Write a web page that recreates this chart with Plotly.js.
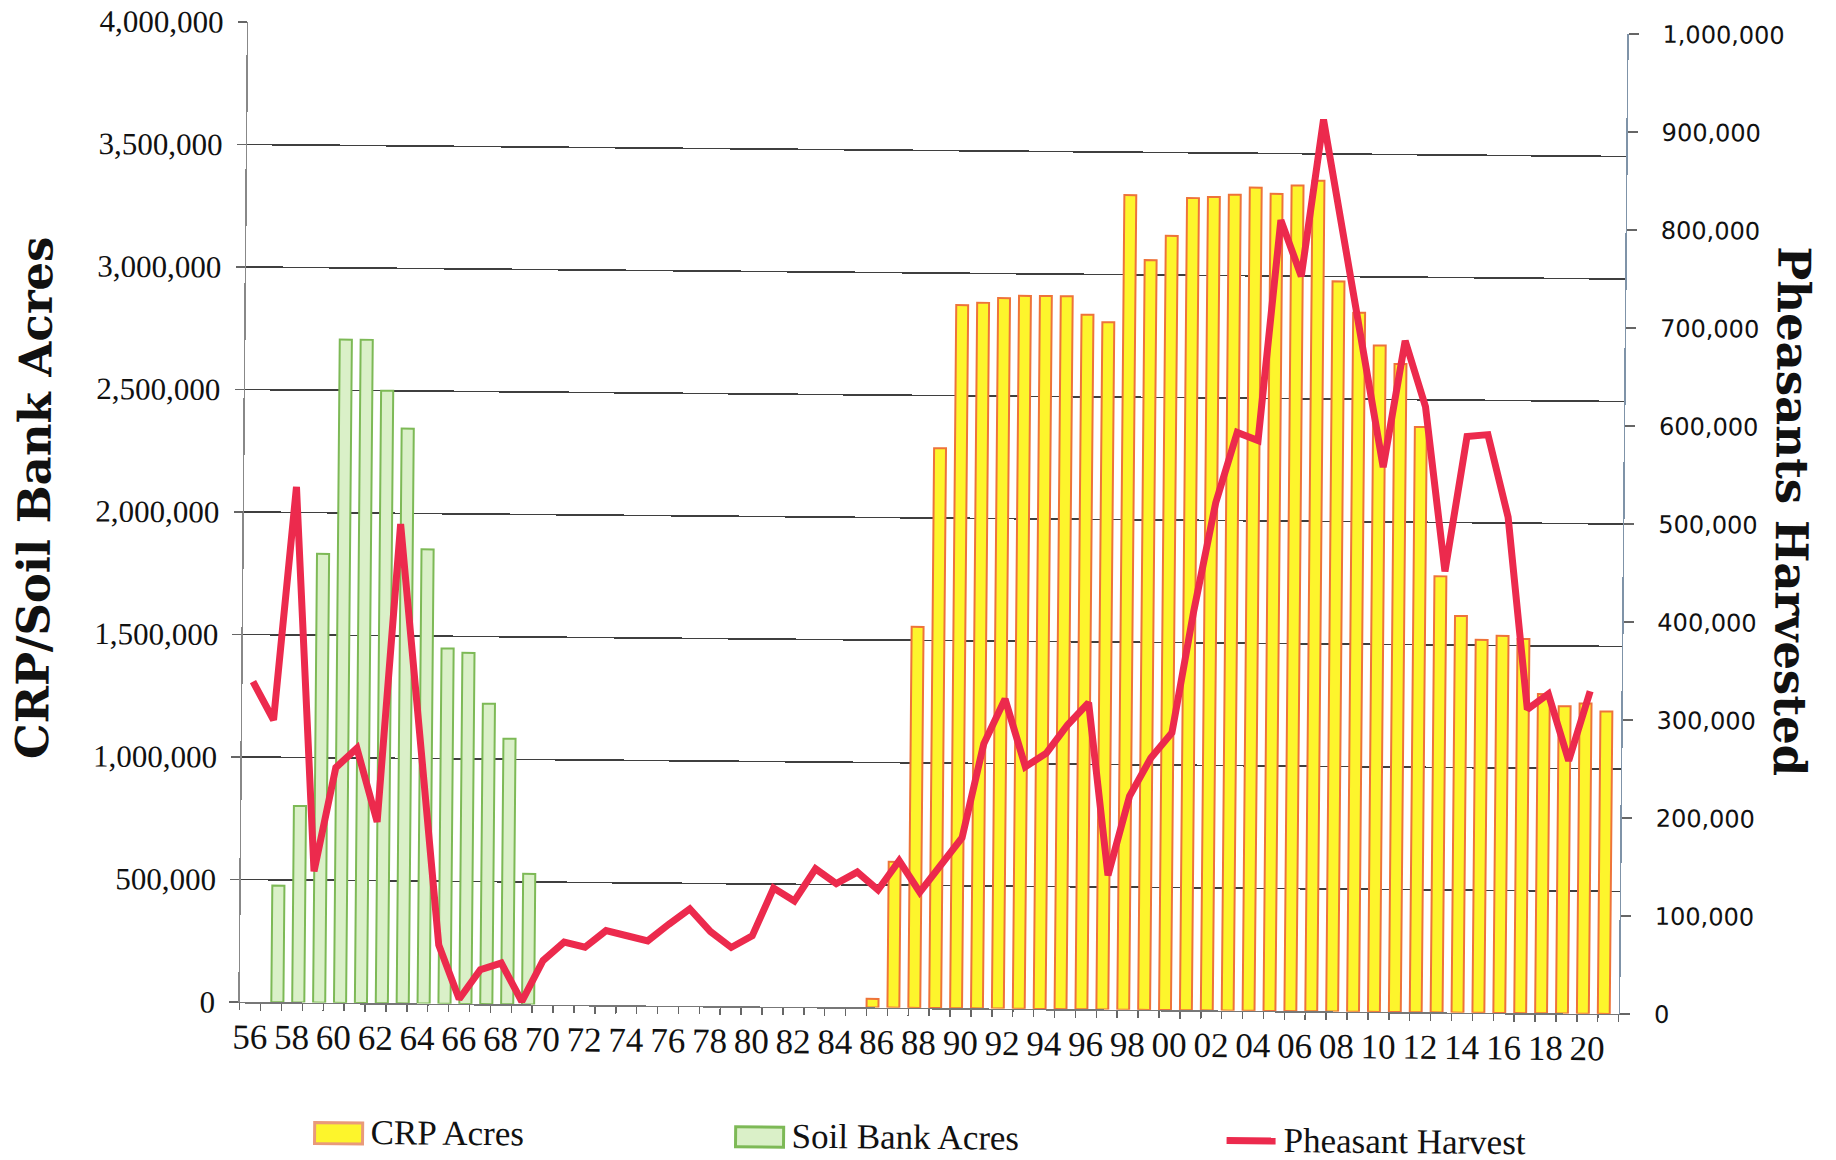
<!DOCTYPE html>
<html>
<head>
<meta charset="utf-8">
<script src="https://cdn.plot.ly/plotly-3.0.1.min.js"></script>
<style>
html,body{margin:0;padding:0;background:#fff;overflow:hidden;}
#chart{position:absolute;left:0;top:0;width:1836px;height:1160px;transform-origin:933.7px 518px;transform:rotate(0.5deg);}
</style>
</head>
<body>
<div id="chart"></div>
<script>
// ---- data ----
const soilYears = [1957,1958,1959,1960,1961,1962,1963,1964,1965,1966,1967,1968,1969];
const soilAcres = [476000,802000,1832000,2707000,2707000,2500000,2346000,1854000,1450000,1433000,1226000,1084000,533000];

const crpYears = [1986,1987,1988,1989,1990,1991,1992,1993,1994,1995,1996,1997,1998,1999,2000,2001,2002,2003,2004,2005,2006,2007,2008,2009,2010,2011,2012,2013,2014,2015,2016,2017,2018,2019,2020,2021];
const crpAcres = [35000,595000,1555000,2285000,2870000,2880000,2900000,2910000,2910000,2910000,2835000,2805000,3325000,3060000,3160000,3315000,3320000,3330000,3360000,3335000,3370000,3390000,2980000,2853000,2720000,2645000,2389000,1780000,1619000,1522000,1539000,1527000,1303000,1254000,1266000,1234000];

const harvestYears = [1956,1957,1958,1959,1960,1961,1962,1963,1964,1965,1966,1967,1968,1969,1970,1971,1972,1973,1974,1975,1976,1977,1978,1979,1980,1981,1982,1983,1984,1985,1986,1987,1988,1989,1990,1991,1992,1993,1994,1995,1996,1997,1998,1999,2000,2001,2002,2003,2004,2005,2006,2007,2008,2009,2010,2011,2012,2013,2014,2015,2016,2017,2018,2019,2020];
const pheasantHarvest = [327000,288000,526000,134000,240000,260000,185000,489000,275000,60000,5000,35000,42000,3000,45000,64000,59000,76000,71000,66000,83000,99000,76000,60000,72000,121000,108000,141000,126000,138000,120000,150000,118000,145000,174000,270000,316000,247000,261000,290000,313000,137000,218000,257000,283000,408000,518000,590000,582000,807000,750000,910000,790000,672000,556000,685000,618000,450000,588000,590000,506000,310000,326000,258000,329000];

const tickYears = [1956,1958,1960,1962,1964,1966,1968,1970,1972,1974,1976,1978,1980,1982,1984,1986,1988,1990,1992,1994,1996,1998,2000,2002,2004,2006,2008,2010,2012,2014,2016,2018,2020];
const tickLabels = ['56','58','60','62','64','66','68','70','72','74','76','78','80','82','84','86','88','90','92','94','96','98','00','02','04','06','08','10','12','14','16','18','20'];

const seriesNames = ['CRP Acres','Soil Bank Acres','Pheasant Harvest'];
const leftTitle = 'CRP/Soil Bank Acres';
const rightTitle = 'Pheasants Harvested';

// ---- layout geometry ----
const FW = 1836, FH = 1160;
const L = 244, R = 213, T = 28, B = 152;
const W = FW - L - R, H = FH - T - B;
const px = v => (v - L) / W;
const py = v => (FH - B - v) / H;

const crpColor = '#FDF52C', crpEdge = '#EE733A';
const soilColor = '#DAF0C8', soilEdge = '#7DB956';
const lineColor = '#EC2A4D';

const traces = [
  {type:'bar', name:seriesNames[0], x:crpYears, y:crpAcres, offset:-0.5, width:0.57,
   marker:{color:crpColor, line:{color:crpEdge, width:2}}, yaxis:'y', hoverinfo:'skip'},
  {type:'bar', name:seriesNames[1], x:soilYears, y:soilAcres, offset:0.01, width:0.58,
   marker:{color:soilColor, line:{color:soilEdge, width:2}}, yaxis:'y', hoverinfo:'skip'},
  {type:'scatter', mode:'lines', name:seriesNames[2], x:harvestYears, y:pheasantHarvest,
   line:{color:lineColor, width:7}, yaxis:'y2', hoverinfo:'skip'}
];

const serif = 'Liberation Serif, Times New Roman, serif';
const heavy = 'DejaVu Serif, serif';

const layout = {
  width: FW, height: FH,
  margin:{l:L, r:R, t:T, b:B, pad:0},
  paper_bgcolor:'#fff', plot_bgcolor:'#fff',
  showlegend:false,
  barmode:'overlay',
  xaxis:{
    range:[1955.5, 2021.5], tickmode:'array', tickvals:tickYears, ticktext:tickLabels,
    ticks:'', showgrid:false, zeroline:false,
    showline:true, linecolor:'#777', linewidth:1.5,
    tickfont:{family:serif, size:35, color:'#111'},
    ticklabelstandoff:3,
    minor:{tickmode:'linear', tick0:1955.5, dtick:1, ticks:'outside', ticklen:7, tickwidth:1.5, tickcolor:'#666', showgrid:false}
  },
  yaxis:{
    range:[0, 4000000], tickmode:'linear', tick0:0, dtick:500000, tickformat:',d',
    showgrid:true, gridcolor:'#3f3f3f', gridwidth:1.6, zeroline:false,
    showline:true, linecolor:'#888', linewidth:1.5,
    ticks:'outside', ticklen:9, tickwidth:1.5, tickcolor:'#666',
    tickfont:{family:serif, size:31, color:'#111'},
    ticklabelstandoff:8
  },
  yaxis2:{
    overlaying:'y', side:'right', range:[0, 1000000], tickmode:'linear', tick0:0, dtick:100000, tickformat:',d',
    showgrid:false, zeroline:false,
    showline:true, linecolor:'#7f93a8', linewidth:1.5,
    ticks:'outside', ticklen:10, tickwidth:1.5, tickcolor:'#666',
    tickfont:{family:'DejaVu Sans, sans-serif', size:24, color:'#111'},
    ticklabelstandoff:19
  },
  annotations:[
    {text:'<b>'+leftTitle+'</b>', xref:'paper', yref:'paper', x:px(35), y:py(506), xanchor:'center', yanchor:'middle',
     textangle:-90, showarrow:false, font:{family:heavy, size:45, color:'#111'}},
    {text:'<b>'+rightTitle+'</b>', xref:'paper', yref:'paper', x:px(1792), y:py(504), xanchor:'center', yanchor:'middle',
     textangle:90, showarrow:false, font:{family:heavy, size:45, color:'#111'}},
    {text:seriesNames[0], xref:'paper', yref:'paper', x:px(374), y:py(1137), xanchor:'left', yanchor:'middle',
     showarrow:false, font:{family:serif, size:35, color:'#111'}},
    {text:seriesNames[1], xref:'paper', yref:'paper', x:px(795), y:py(1137), xanchor:'left', yanchor:'middle',
     showarrow:false, font:{family:serif, size:35, color:'#111'}},
    {text:seriesNames[2], xref:'paper', yref:'paper', x:px(1287), y:py(1137), xanchor:'left', yanchor:'middle',
     showarrow:false, font:{family:serif, size:35, color:'#111'}}
  ],
  shapes:[
    {type:'rect', xref:'paper', yref:'paper', x0:px(320), x1:px(368), y0:py(1149), y1:py(1128),
     fillcolor:crpColor, line:{color:'#E99A7A', width:3}},
    {type:'rect', xref:'paper', yref:'paper', x0:px(741), x1:px(789), y0:py(1148.5), y1:py(1128.5),
     fillcolor:soilColor, line:{color:soilEdge, width:3}},
    {type:'line', xref:'paper', yref:'paper', x0:px(1232), x1:px(1281), y0:py(1138), y1:py(1138),
     line:{color:lineColor, width:7}}
  ]
};

Plotly.newPlot('chart', traces, layout, {displayModeBar:false, staticPlot:true});
</script>
</body>
</html>
